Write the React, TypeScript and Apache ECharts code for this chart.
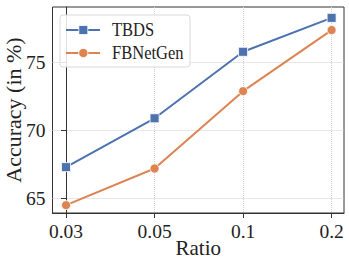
import React, { useEffect, useRef } from "react";
import * as echarts from "echarts";

const ratios = ["0.03", "0.05", "0.1", "0.2"];
const tbds = [67.3, 70.9, 75.8, 78.3];
const fbnetgen = [64.5, 67.2, 72.9, 77.4];
const yTicks = [65, 70, 75];
const seriesNames = ["TBDS", "FBNetGen"];

export default function App() {
  const ref = useRef<HTMLDivElement>(null);
  useEffect(() => {
    if (!ref.current) return;
    const chart = echarts.init(ref.current, null, { renderer: "svg" });
    const font = "'Liberation Serif', 'Times New Roman', serif";
    const idx = ratios.map((_, i) => i);
    const blue = "#4C72B0";
    const orange = "#DD8452";
    const legendItem = (y: number, color: string, name: string, square: boolean) => [
      { type: "line", shape: { x1: 66, y1: y, x2: 100, y2: y }, style: { stroke: color, lineWidth: 2 } },
      square
        ? { type: "rect", shape: { x: 78.8, y: y - 4.5, width: 9, height: 9 }, style: { fill: color, stroke: "#fff", lineWidth: 0.8 } }
        : { type: "circle", shape: { cx: 83.3, cy: y, r: 4.6 }, style: { fill: color, stroke: "#fff", lineWidth: 0.8 } },
      {
        type: "text",
        x: 112,
        y: y,
        scaleX: 0.87,
        style: { text: name, fontFamily: font, fontSize: 19, fill: "#222", verticalAlign: "middle", align: "left" },
      },
    ];
    chart.setOption({
      animation: false,
      backgroundColor: "#ffffff",
      textStyle: { fontFamily: font },
      grid: {
        left: 52.5,
        right: 5,
        top: 7,
        bottom: 49,
        show: true,
        borderColor: "#333333",
        borderWidth: 1,
        containLabel: false,
        outerBoundsMode: "none",
      },
      graphic: [
        {
          type: "rect",
          shape: { x: 60, y: 15, width: 130, height: 52, r: 3 },
          style: { fill: "rgba(255,255,255,0.85)", stroke: "#d9d9d9", lineWidth: 1 },
          z: 100,
        },
        ...legendItem(30, blue, seriesNames[0], true).map((e) => ({ ...e, z: 101 })),
        ...legendItem(53, orange, seriesNames[1], false).map((e) => ({ ...e, z: 101 })),
      ],
      xAxis: {
        type: "value",
        min: -0.153,
        max: 3.14,
        name: "Ratio",
        nameLocation: "middle",
        nameGap: 24,
        nameMoveOverlap: false,
        nameTextStyle: { fontFamily: font, fontSize: 21, color: "#222" },
        axisLine: { show: true, lineStyle: { color: "#333" } },
        axisTick: { show: true, length: 5, customValues: idx, lineStyle: { color: "#333" } },
        axisLabel: {
          customValues: idx,
          margin: 8,
          fontFamily: font,
          fontSize: 19.5,
          color: "#222",
          formatter: (v: number) => ratios[Math.round(v)] ?? "",
        },
        splitLine: { show: true, customValues: idx, lineStyle: { color: "#d0d0d0", type: "dotted", width: 1 } },
      },
      yAxis: {
        type: "value",
        min: 63.92,
        max: 79.1,
        name: "Accuracy (in %)",
        nameLocation: "middle",
        nameGap: 28,
        nameMoveOverlap: false,
        nameTextStyle: { fontFamily: font, fontSize: 22, color: "#222" },
        axisLine: { show: true, lineStyle: { color: "#333" } },
        axisTick: { show: true, length: 5, customValues: yTicks, lineStyle: { color: "#333" } },
        axisLabel: { customValues: yTicks, margin: 7, fontFamily: font, fontSize: 19.5, color: "#222" },
        splitLine: { show: true, customValues: yTicks, lineStyle: { color: "#d0d0d0", type: "dotted", width: 1 } },
      },
      series: [
        {
          name: seriesNames[0],
          type: "line",
          data: tbds.map((v, i) => [i, v]),
          symbol: "rect",
          symbolSize: 9,
          color: blue,
          lineStyle: { width: 2 },
          itemStyle: { borderColor: "#ffffff", borderWidth: 0.8 },
        },
        {
          name: seriesNames[1],
          type: "line",
          data: fbnetgen.map((v, i) => [i, v]),
          symbol: "circle",
          symbolSize: 9,
          color: orange,
          lineStyle: { width: 2 },
          itemStyle: { borderColor: "#ffffff", borderWidth: 0.8 },
        },
      ],
    });
    return () => chart.dispose();
  }, []);
  return (
    <div
      ref={ref}
      style={{ position: "fixed", left: 0, top: 0, width: 349, height: 262 }}
    />
  );
}
